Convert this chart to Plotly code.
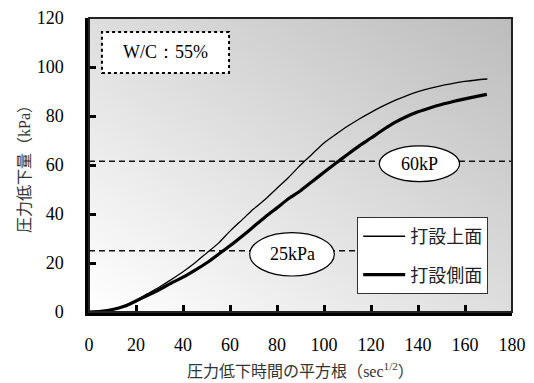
import base64
import plotly.graph_objects as go

# ---- data ----
x_top = [0, 5, 10, 15, 20, 25, 30, 35, 40, 45, 50, 55, 60, 65, 70, 75, 80, 85, 90, 95,
         100, 105, 110, 115, 120, 125, 130, 135, 140, 145, 150, 155, 160, 165, 169.5]
y_top = [0, 0.3, 1, 2.5, 4.8, 7.5, 10.2, 13.2, 16.4, 20, 24, 28, 33, 37.5, 42, 46, 50.5, 55, 60, 64.5,
         69, 72.5, 75.8, 78.8, 81.5, 84, 86.3, 88.2, 89.9, 91.3, 92.4, 93.3, 94.1, 94.7, 95.1]

x_side = [0, 5, 10, 15, 20, 25, 30, 35, 40, 45, 50, 55, 60, 65, 70, 75, 80, 85, 90, 95,
          100, 105, 110, 115, 120, 125, 130, 135, 140, 145, 150, 155, 160, 165, 169.3]
y_side = [0, 0.3, 1, 2.3, 4.5, 6.8, 9.2, 11.8, 14.2, 17, 20, 23.5, 27, 30.8, 34.8, 38.8, 42.5, 46.3, 49.5, 53.3,
          57, 60.7, 64.3, 67.8, 71, 74.3, 77.3, 79.7, 81.7, 83.3, 84.7, 85.9, 87, 88, 88.8]

series_names = ["打設上面", "打設側面"]
ref_levels = [61.5, 25]
ref_labels = ["60kP", "25kPa"]
x_ticks = list(range(0, 181, 20))
y_ticks = list(range(0, 121, 20))

SERIF = "'Liberation Serif', 'Times New Roman', Times, serif"
CJK = "'Noto Sans CJK JP', sans-serif"

fig = go.Figure()
fig.add_trace(go.Scatter(x=x_top, y=y_top, mode="lines", name=series_names[0],
                         legendgroup="a", line=dict(color="black", width=1.3, shape="spline", smoothing=0.6)))
fig.add_trace(go.Scatter(x=x_side, y=y_side, mode="lines", name=series_names[1],
                         legendgroup="b", line=dict(color="black", width=3.2, shape="spline", smoothing=0.6)))

# gradient background
svg = ('<svg xmlns="http://www.w3.org/2000/svg" width="100" height="100" preserveAspectRatio="none">'
       '<defs><linearGradient id="g" x1="0" y1="1" x2="1" y2="0">'
       '<stop offset="0" stop-color="#ffffff"/><stop offset="1" stop-color="#bcbcbc"/>'
       '</linearGradient></defs><rect width="100" height="100" fill="url(#g)"/></svg>')
src = "data:image/svg+xml;base64," + base64.b64encode(svg.encode()).decode()
fig.add_layout_image(dict(source=src, xref="paper", yref="paper", x=0, y=1, sizex=1, sizey=1,
                          sizing="stretch", layer="below", xanchor="left", yanchor="top"))

shapes = []
shapes.append(dict(type="line", xref="x", yref="y", x0=0, x1=180, y0=ref_levels[0], y1=ref_levels[0],
                   line=dict(color="#111", width=1.4, dash="6px,4px"), layer="below"))
shapes.append(dict(type="line", xref="x", yref="y", x0=0, x1=115, y0=ref_levels[1], y1=ref_levels[1],
                   line=dict(color="#111", width=1.4, dash="6px,4px"), layer="below"))
shapes.append(dict(type="circle", xref="x", yref="y", x0=123.5, x1=157.7, y0=53.2, y1=67.8,
                   fillcolor="white", line=dict(color="black", width=1.2)))
shapes.append(dict(type="circle", xref="x", yref="y", x0=68.4, x1=104.4, y0=14.7, y1=32.4,
                   fillcolor="white", line=dict(color="black", width=1.2)))
shapes.append(dict(type="rect", xref="x", yref="y", x0=5.5, x1=59.6, y0=97.6, y1=114.3,
                   fillcolor="white", line=dict(color="black", width=2, dash="dot")))
shapes.append(dict(type="rect", xref="paper", yref="paper", x0=0, x1=1, y0=0, y1=1,
                   line=dict(color="#222", width=2)))

annotations = [
    dict(x=140.6, y=60.5, xref="x", yref="y", text=ref_labels[0], showarrow=False,
         font=dict(family=SERIF, size=18, color="black")),
    dict(x=86.4, y=23.5, xref="x", yref="y", text=ref_labels[1], showarrow=False,
         font=dict(family=SERIF, size=18, color="black")),
    dict(x=32.5, y=106, xref="x", yref="y", text="W/C：55%", showarrow=False,
         font=dict(family=SERIF, size=18, color="black")),
]

fig.update_layout(
    width=534, height=383,
    margin=dict(l=89, r=22, t=18, b=71),
    paper_bgcolor="white", plot_bgcolor="white",
    shapes=shapes, annotations=annotations,
    showlegend=True,
    legend=dict(x=0.634, y=0.323, xanchor="left", yanchor="top",
                bgcolor="white", bordercolor="#333", borderwidth=1,
                font=dict(family=CJK, size=18, color="#222"),
                itemwidth=42,
                tracegroupgap=12, traceorder="grouped"),
    hovermode=False,
)
fig.update_xaxes(range=[0, 180], tickvals=x_ticks, ticks="inside", ticklen=7, tickwidth=3,
                 tickcolor="black", showline=True, linewidth=3.5, linecolor="black",
                 showgrid=False, zeroline=False, ticklabelstandoff=14, automargin=False,
                 tickfont=dict(family=SERIF, size=18, color="black"),
                 title=dict(text="圧力低下時間の平方根（<span style=\"font-family:'Liberation Serif', serif\">sec<sup>1/2</sup></span>）",
                            standoff=12, font=dict(family=CJK, size=16, color="#333")))
fig.update_yaxes(range=[0, 120], tickvals=y_ticks, ticks="inside", ticklen=7, tickwidth=3,
                 tickcolor="black", showline=True, linewidth=3.5, linecolor="black",
                 showgrid=False, zeroline=False, ticklabelstandoff=18, automargin=False,
                 tickfont=dict(family=SERIF, size=18, color="black"),
                 title=dict(text="圧力低下量（<span style=\"font-family:'Liberation Serif', serif\">kPa</span>）",
                            standoff=3, font=dict(family=CJK, size=16, color="#333")))

fig.write_html("out.html")
